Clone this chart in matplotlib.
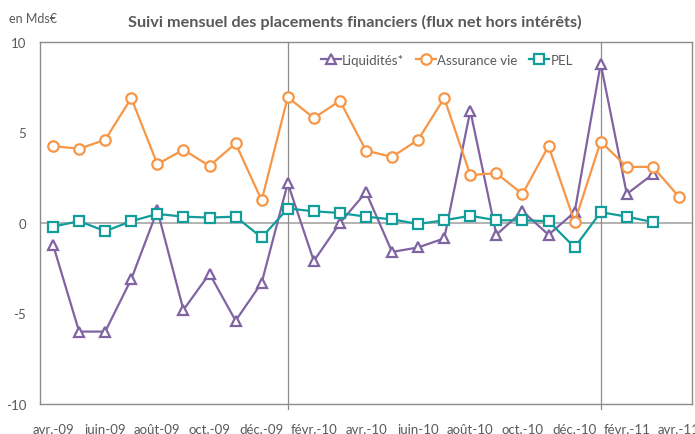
import matplotlib
matplotlib.use("Agg")
import matplotlib.pyplot as plt
import numpy as np

plt.rcParams['font.family'] = ['Lato', 'DejaVu Sans']

months = ["avr.-09", "mai-09", "juin-09", "juil.-09", "août-09", "sept.-09", "oct.-09",
          "nov.-09", "déc.-09", "janv.-10", "févr.-10", "mars-10", "avr.-10", "mai-10",
          "juin-10", "juil.-10", "août-10", "sept.-10", "oct.-10", "nov.-10", "déc.-10",
          "janv.-11", "févr.-11", "mars-11", "avr.-11"]

liquidites = [-1.2, -6.0, -6.0, -3.1, 0.7, -4.8, -2.8, -5.4, -3.3, 2.2, -2.1, 0.0,
              1.7, -1.6, -1.35, -0.85, 6.2, -0.65, 0.65, -0.65, 0.6, 8.8, 1.6, 2.7]
assurance_vie = [4.25, 4.1, 4.6, 6.9, 3.25, 4.05, 3.15, 4.4, 1.25, 6.95, 5.8, 6.75,
                 4.0, 3.65, 4.6, 6.9, 2.65, 2.75, 1.6, 4.25, 0.05, 4.5, 3.1, 3.1, 1.45]
pel = [-0.2, 0.1, -0.45, 0.1, 0.5, 0.35, 0.3, 0.35, -0.8, 0.8, 0.65, 0.55,
       0.35, 0.2, -0.05, 0.15, 0.4, 0.15, 0.15, 0.1, -1.35, 0.6, 0.35, 0.05]

series_names = ["Liquidités*", "Assurance vie", "PEL"]
colors = ["#8064A2", "#F79646", "#129C9A"]
markers = ["^", "o", "s"]

grey = "#595959"
fig = plt.figure(figsize=(6.95, 4.35), dpi=100)
ax = fig.add_axes([40/695, 30/435, 652/695, 362/435])

x = np.arange(len(months))
data = [liquidites, assurance_vie, pel]
for i, (vals, name) in enumerate(zip(data, series_names)):
    xi = x[:len(vals)]
    ax.plot(xi, vals, color=colors[i], lw=1.6, marker=markers[i],
            markersize=7.5 if markers[i] != "s" else 6.5,
            markerfacecolor="white", markeredgecolor=colors[i], markeredgewidth=1.6,
            label=name, zorder=3 + i)

ax.set_xlim(-0.5, len(months) - 0.5)
ax.set_ylim(-10, 10)
ax.set_yticks([-10, -5, 0, 5, 10])
ax.set_yticklabels(["-10", "-5", "0", "5", "10"])
ax.set_xticks(x[::2])
ax.set_xticklabels(months[::2])
ax.tick_params(axis='both', length=0, colors=grey, labelsize=9.5)
ax.tick_params(axis='x', pad=14)
ax.tick_params(axis='y', pad=10)

for s in ax.spines.values():
    s.set_color("#8C8C8C")
    s.set_linewidth(1.0)

ax.axhline(0, color="#A6A6A6", lw=1.2, zorder=1)
for m in ["janv.-10", "janv.-11"]:
    ax.axvline(months.index(m), ymin=-0.015, ymax=1, color="#8C8C8C", lw=0.9, zorder=1, clip_on=False)

leg = ax.legend(loc="upper center", bbox_to_anchor=(0.624, 1.0), ncol=3, frameon=False,
                fontsize=9.5, handlelength=1.5, handletextpad=0.1, columnspacing=0.9,
                labelcolor=grey)

fig.text(0.511, 0.948, "Suivi mensuel des placements financiers (flux net hors intérêts)",
         ha="center", va="center", fontsize=11.7, fontweight="bold", color=grey)
fig.text(9/695, 1 - 19/435, "en Mds€", ha="left", va="center", fontsize=9, color=grey)

fig.savefig("out.png", dpi=100)
